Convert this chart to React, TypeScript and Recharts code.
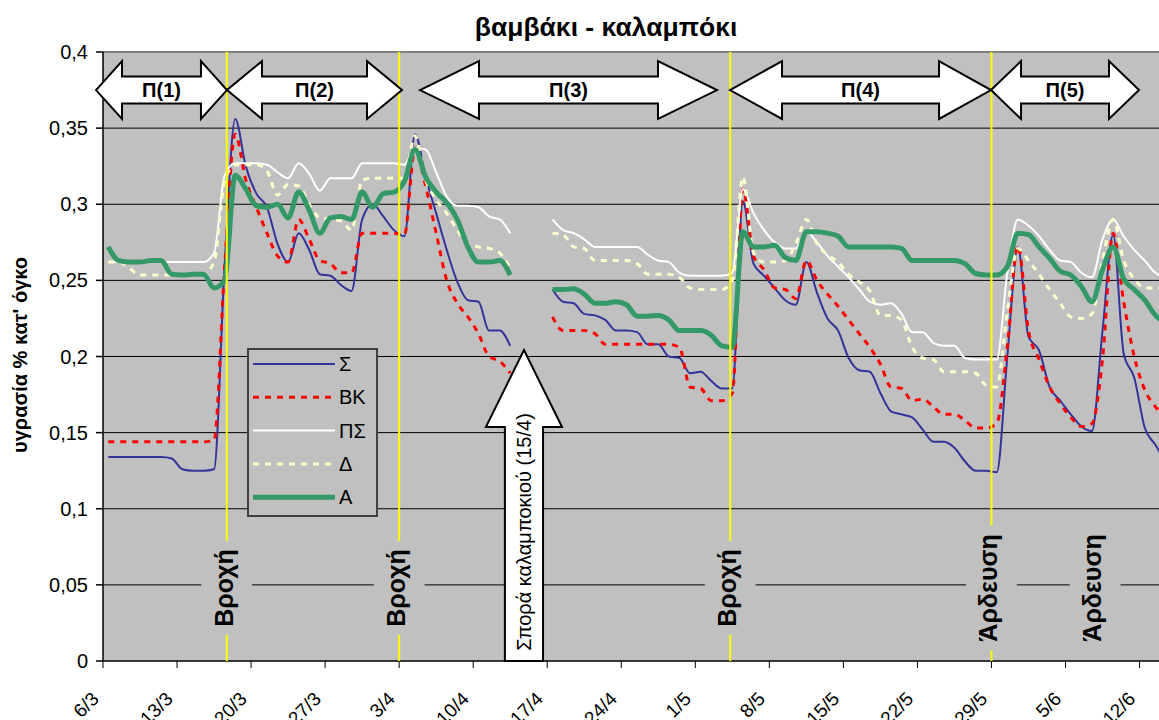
import React from 'react';
import {
  LineChart,
  Line,
  XAxis,
  YAxis,
  CartesianGrid,
  ReferenceLine,
  ReferenceArea,
  Legend,
  Customized,
} from 'recharts';

const FONT = 'Arial, "Liberation Sans", sans-serif';

// x axis: days counted from 6/3, one tick per week
const tickDays = [0, 7, 14, 21, 28, 35, 42, 49, 56, 63, 70, 77, 84, 91, 98];
const tickLabels = ['6/3', '13/3', '20/3', '27/3', '3/4', '10/4', '17/4', '24/4', '1/5', '8/5', '15/5', '22/5', '29/5', '5/6', '12/6'];
const yTicks = [0, 0.05, 0.1, 0.15, 0.2, 0.25, 0.3, 0.35, 0.4];

// daily readings (index 0 = 6/3), null = no measurement
const sigma = [
  0.134, 0.134, 0.134, 0.134, 0.134, 0.134, 0.133, 0.126, 0.125, 0.125,
  0.126, 0.26, 0.356, 0.325, 0.307, 0.298, 0.274, 0.262, 0.281, 0.27,
  0.254, 0.253, 0.247, 0.243, 0.29, 0.3, 0.292, 0.283, 0.279, 0.346,
  0.318, 0.294, 0.27, 0.249, 0.237, 0.236, 0.217, 0.217, 0.207, null,
  null, null, 0.244, 0.236, 0.235, 0.228, 0.227, 0.224, 0.217, 0.217,
  0.216, 0.208, 0.208, 0.2, 0.199, 0.189, 0.19, 0.184, 0.179, 0.179,
  0.302, 0.261, 0.253, 0.245, 0.237, 0.234, 0.262, 0.242, 0.225, 0.217,
  0.199, 0.191, 0.19, 0.176, 0.164, 0.162, 0.16, 0.152, 0.144, 0.144,
  0.14, 0.131, 0.125, 0.125, 0.124, 0.2, 0.272, 0.213, 0.204, 0.18,
  0.171, 0.162, 0.154, 0.151, 0.217, 0.28, 0.202, 0.186, 0.153, 0.142,
  0.13,
];
const bk = [
  0.144, 0.144, 0.144, 0.144, 0.144, 0.144, 0.144, 0.144, 0.144, 0.144,
  0.145, 0.259, 0.346, 0.316, 0.298, 0.281, 0.266, 0.262, 0.29, 0.277,
  0.263, 0.261, 0.255, 0.255, 0.281, 0.281, 0.281, 0.281, 0.28, 0.337,
  0.312, 0.281, 0.25, 0.235, 0.226, 0.215, 0.2, 0.197, 0.189, null,
  null, null, 0.226, 0.217, 0.217, 0.217, 0.215, 0.208, 0.208, 0.208,
  0.208, 0.208, 0.208, 0.208, 0.206, 0.18, 0.179, 0.171, 0.171, 0.176,
  0.31, 0.266, 0.257, 0.245, 0.244, 0.238, 0.263, 0.25, 0.241, 0.233,
  0.224, 0.215, 0.206, 0.195, 0.18, 0.179, 0.171, 0.172, 0.167, 0.162,
  0.162, 0.158, 0.153, 0.153, 0.156, 0.206, 0.273, 0.217, 0.198, 0.18,
  0.169, 0.16, 0.154, 0.156, 0.198, 0.281, 0.236, 0.2, 0.178, 0.167,
  0.16,
];
const ps = [
  0.262, 0.262, 0.262, 0.262, 0.262, 0.262, 0.262, 0.262, 0.262, 0.262,
  0.268, 0.319, 0.327, 0.327, 0.327, 0.326, 0.321, 0.317, 0.327, 0.32,
  0.309, 0.317, 0.317, 0.317, 0.327, 0.327, 0.327, 0.327, 0.326, 0.337,
  0.336, 0.321, 0.305, 0.299, 0.299, 0.298, 0.292, 0.29, 0.281, null,
  null, null, 0.29, 0.283, 0.281, 0.277, 0.272, 0.272, 0.272, 0.272,
  0.272, 0.267, 0.263, 0.262, 0.255, 0.253, 0.253, 0.253, 0.253, 0.255,
  0.31, 0.294, 0.283, 0.275, 0.271, 0.271, 0.282, 0.275, 0.266, 0.259,
  0.252, 0.244, 0.236, 0.234, 0.235, 0.228, 0.216, 0.216, 0.209, 0.207,
  0.207, 0.199, 0.198, 0.198, 0.198, 0.255, 0.29, 0.286, 0.279, 0.27,
  0.263, 0.262, 0.255, 0.252, 0.277, 0.29, 0.279, 0.27, 0.263, 0.255,
  0.252,
];
const delta = [
  0.262, 0.262, 0.258, 0.2535, 0.2535, 0.2535, 0.2535, 0.2535, 0.2535, 0.254,
  0.262, 0.315, 0.326, 0.326, 0.326, 0.322, 0.306, 0.313, 0.312, 0.3,
  0.291, 0.29, 0.289, 0.283, 0.316, 0.317, 0.317, 0.317, 0.317, 0.345,
  0.316, 0.303, 0.294, 0.283, 0.274, 0.272, 0.271, 0.268, 0.258, null,
  null, null, 0.281, 0.28, 0.272, 0.271, 0.263, 0.263, 0.263, 0.263,
  0.261, 0.254, 0.254, 0.254, 0.252, 0.245, 0.244, 0.244, 0.244, 0.25,
  0.318, 0.268, 0.262, 0.262, 0.263, 0.274, 0.29, 0.274, 0.267, 0.262,
  0.254, 0.249, 0.243, 0.227, 0.227, 0.224, 0.206, 0.199, 0.198, 0.19,
  0.19, 0.19, 0.189, 0.181, 0.18, 0.23, 0.271, 0.263, 0.254, 0.244,
  0.235, 0.226, 0.225, 0.228, 0.263, 0.29, 0.263, 0.251, 0.245, 0.245,
  0.245,
];
const alpha = [
  0.272, 0.263, 0.262, 0.262, 0.263, 0.263, 0.254, 0.2535, 0.254, 0.254,
  0.245, 0.25, 0.319, 0.31, 0.299, 0.298, 0.3, 0.291, 0.308, 0.296,
  0.281, 0.291, 0.292, 0.29, 0.308, 0.298, 0.307, 0.308, 0.315, 0.336,
  0.318, 0.308, 0.301, 0.29, 0.272, 0.262, 0.262, 0.263, 0.2535, null,
  null, null, 0.244, 0.244, 0.2445, 0.241, 0.235, 0.235, 0.236, 0.234,
  0.2265, 0.2265, 0.227, 0.224, 0.217, 0.217, 0.217, 0.214, 0.207, 0.206,
  0.282, 0.272, 0.272, 0.273, 0.265, 0.263, 0.282, 0.282, 0.281, 0.279,
  0.272, 0.272, 0.272, 0.272, 0.272, 0.271, 0.263, 0.263, 0.263, 0.263,
  0.263, 0.261, 0.2545, 0.2535, 0.2535, 0.259, 0.281, 0.28, 0.272, 0.2645,
  0.256, 0.2535, 0.246, 0.236, 0.257, 0.272, 0.251, 0.244, 0.237, 0.227,
  0.222,
];

// events (day position) drawn as yellow lines and labels
const eventLineDays = [11.7, 28, 59.3, 84];
const eventLabelDays = [11.7, 28, 59.3, 84, 93.8];
const eventLabelTexts = ['Βροχή', 'Βροχή', 'Βροχή', 'Άρδευση', 'Άρδευση'];

// periods shown as double arrows at the top
const periodStart = [-0.66, 11.72, 29.97, 59.28, 83.96];
const periodEnd = [11.72, 28.27, 58.05, 83.96, 97.95];
const periodLabels = ['Π(1)', 'Π(2)', 'Π(3)', 'Π(4)', 'Π(5)'];
const periodHeads = [26, 35, 59, 52, 30];

const series = [
  { key: 'sigma', name: 'Σ', color: '#333399', width: 2, dash: undefined },
  { key: 'bk', name: 'ΒΚ', color: '#FF0000', width: 3, dash: '6 6' },
  { key: 'ps', name: 'ΠΣ', color: '#FFFFFF', width: 2, dash: undefined },
  { key: 'delta', name: 'Δ', color: '#FFFFCC', width: 3, dash: '6 6' },
  { key: 'alpha', name: 'Α', color: '#339966', width: 5, dash: undefined },
];

const rows = sigma.map((v, i) => ({
  day: i + 0.5,
  sigma: v,
  bk: bk[i],
  ps: ps[i],
  delta: delta[i],
  alpha: alpha[i],
}));

const fmtY = (v: number) => String(+v.toFixed(2)).replace('.', ',');

const DateTick = (props: any) => {
  const { x, y, payload } = props;
  const label = tickLabels[tickDays.indexOf(payload.value)];
  const ax = x - 3;
  const ay = y + 30;
  return (
    <text x={ax} y={ay} transform={`rotate(-45 ${ax} ${ay})`} textAnchor="end" fontSize={19} fontFamily={FONT} fill="#000">
      {label}
    </text>
  );
};

const DoubleArrow = (props: any) => {
  const { x, y, width: w, height: h, head, label } = props;
  const cy = y + h / 2;
  const s = 13.5;
  const pts = [
    [x, cy], [x + head, y], [x + head, cy - s], [x + w - head, cy - s], [x + w - head, y],
    [x + w, cy], [x + w - head, y + h], [x + w - head, cy + s], [x + head, cy + s], [x + head, y + h],
  ].map((p) => p.join(',')).join(' ');
  return (
    <g>
      <polygon points={pts} fill="#FFFFFF" stroke="#000" strokeWidth={2} />
      <text x={x + w / 2} y={cy + 7} textAnchor="middle" fontSize={20} fontWeight="bold" fontFamily={FONT} fill="#000">
        {label}
      </text>
    </g>
  );
};

const UpArrow = (props: any) => {
  const { x, y, width: w, height: h } = props;
  const headH = 77;
  const shaft = 19;
  const pts = [
    [x + w / 2, y], [x + w, y + headH], [x + w - shaft, y + headH], [x + w - shaft, y + h],
    [x + shaft, y + h], [x + shaft, y + headH], [x, y + headH],
  ].map((p) => p.join(',')).join(' ');
  const tx = x + w / 2 + 7;
  const ty = y + 182;
  return (
    <g>
      <polygon points={pts} fill="#FFFFFF" stroke="#000" strokeWidth={2} />
      <text x={tx} y={ty} transform={`rotate(-90 ${tx} ${ty})`} textAnchor="middle" fontSize={20} fontFamily={FONT} fill="#000">
        Σπορά καλαμποκιού (15/4)
      </text>
    </g>
  );
};

const EventLabel = (props: any) => {
  const { x, y, width: w, height: h, text } = props;
  const cx = x + w / 2;
  const cy = y + h / 2;
  const boxH = 16 + 15.6 * text.length;
  const tx = cx + 6;
  return (
    <g>
      <rect x={x} y={cy - boxH / 2} width={w} height={boxH} fill="#C0C0C0" />
      <text x={tx} y={cy} transform={`rotate(-90 ${tx} ${cy})`} textAnchor="middle" fontSize={25} fontWeight="bold" fontFamily={FONT} fill="#000">
        {text}
      </text>
    </g>
  );
};

const Titles = () => (
  <g>
    <text x={606} y={36} textAnchor="middle" fontSize={26.5} fontWeight="bold" fontFamily={FONT} fill="#000">
      βαμβάκι - καλαμπόκι
    </text>
    <text x={27} y={355} transform="rotate(-90 27 355)" textAnchor="middle" fontSize={20} fontWeight="bold" fontFamily={FONT} fill="#000">
      υγρασία % κατ' όγκο
    </text>
  </g>
);

const LegendBox = (props: any) => {
  const payload = [...(props.payload || [])].sort(
    (a: any, b: any) => series.findIndex((s) => s.key === a.dataKey) - series.findIndex((s) => s.key === b.dataKey),
  );
  return (
    <svg width={131} height={169} style={{ display: 'block' }}>
      <rect x={1} y={1} width={129} height={167} fill="#C0C0C0" stroke="#404040" strokeWidth={2} />
      {payload.map((entry: any, i: number) => {
        const s = series.find((d) => d.key === entry.dataKey) || series[i];
        const cy = 16 + i * 33.3;
        return (
          <g key={s.key}>
            <line x1={6} x2={88} y1={cy} y2={cy} stroke={s.color} strokeWidth={s.width} strokeDasharray={s.dash} />
            <text x={92} y={cy + 7} fontSize={20} fontFamily={FONT} fill="#000">
              {s.name}
            </text>
          </g>
        );
      })}
    </svg>
  );
};

export default function App() {
  return (
    <div style={{ position: 'absolute', left: 0, top: 0, width: 1159, height: 720, background: '#fff', overflow: 'hidden' }}>
      <LineChart width={1159} height={720} data={rows} margin={{ top: 52, right: 0, bottom: 0, left: 0 }}>
        <CartesianGrid vertical={false} stroke="#000" strokeOpacity={1} fill="#C0C0C0" fillOpacity={1} />
        <XAxis
          dataKey="day"
          type="number"
          domain={[0, 99.84]}
          allowDataOverflow
          ticks={tickDays}
          interval={0}
          height={59}
          tickSize={7}
          tick={<DateTick />}
          stroke="#000"
        />
        <YAxis
          type="number"
          domain={[0, 0.4]}
          ticks={yTicks}
          width={103}
          tickSize={7}
          tickMargin={8}
          tickFormatter={fmtY}
          tick={{ fontSize: 20, fill: '#000', fontFamily: FONT }}
          stroke="#000"
          strokeWidth={1.5}
        />
        <ReferenceLine y={0.4} stroke="#808080" strokeWidth={2} />
        {series.map((s) => (
          <Line
            key={s.key}
            dataKey={s.key}
            name={s.name}
            type="monotone"
            stroke={s.color}
            strokeWidth={s.width}
            strokeDasharray={s.dash}
            dot={false}
            activeDot={false}
            connectNulls={false}
            isAnimationActive={false}
          />
        ))}
        {eventLineDays.map((d) => (
          <ReferenceLine key={`ev-${d}`} x={d} stroke="#FFFF00" strokeWidth={2} zIndex={1100} />
        ))}
        {eventLabelDays.map((d, i) => (
          <ReferenceArea
            key={`lab-${i}`}
            x1={d - 2.4}
            x2={d + 2.4}
            y1={0.006}
            y2={0.09}
            ifOverflow="visible"
            zIndex={1200}
            shape={(p: any) => <EventLabel {...p} text={eventLabelTexts[i]} />}
          />
        ))}
        {periodLabels.map((lab, i) => (
          <ReferenceArea
            key={`per-${i}`}
            x1={periodStart[i]}
            x2={periodEnd[i]}
            y1={0.356}
            y2={0.394}
            ifOverflow="visible"
            zIndex={1200}
            shape={(p: any) => <DoubleArrow {...p} head={periodHeads[i]} label={lab} />}
          />
        ))}
        <ReferenceArea
          x1={36.2}
          x2={43.4}
          y1={0}
          y2={0.2043}
          ifOverflow="visible"
          zIndex={1200}
          shape={(p: any) => <UpArrow {...p} />}
        />
        <Customized component={Titles} />
        <Legend
          layout="horizontal"
          verticalAlign="middle"
          align="center"
          content={<LegendBox />}
          wrapperStyle={{ left: 247, top: 348, width: 131, height: 169, position: 'absolute' }}
        />
      </LineChart>
    </div>
  );
}
